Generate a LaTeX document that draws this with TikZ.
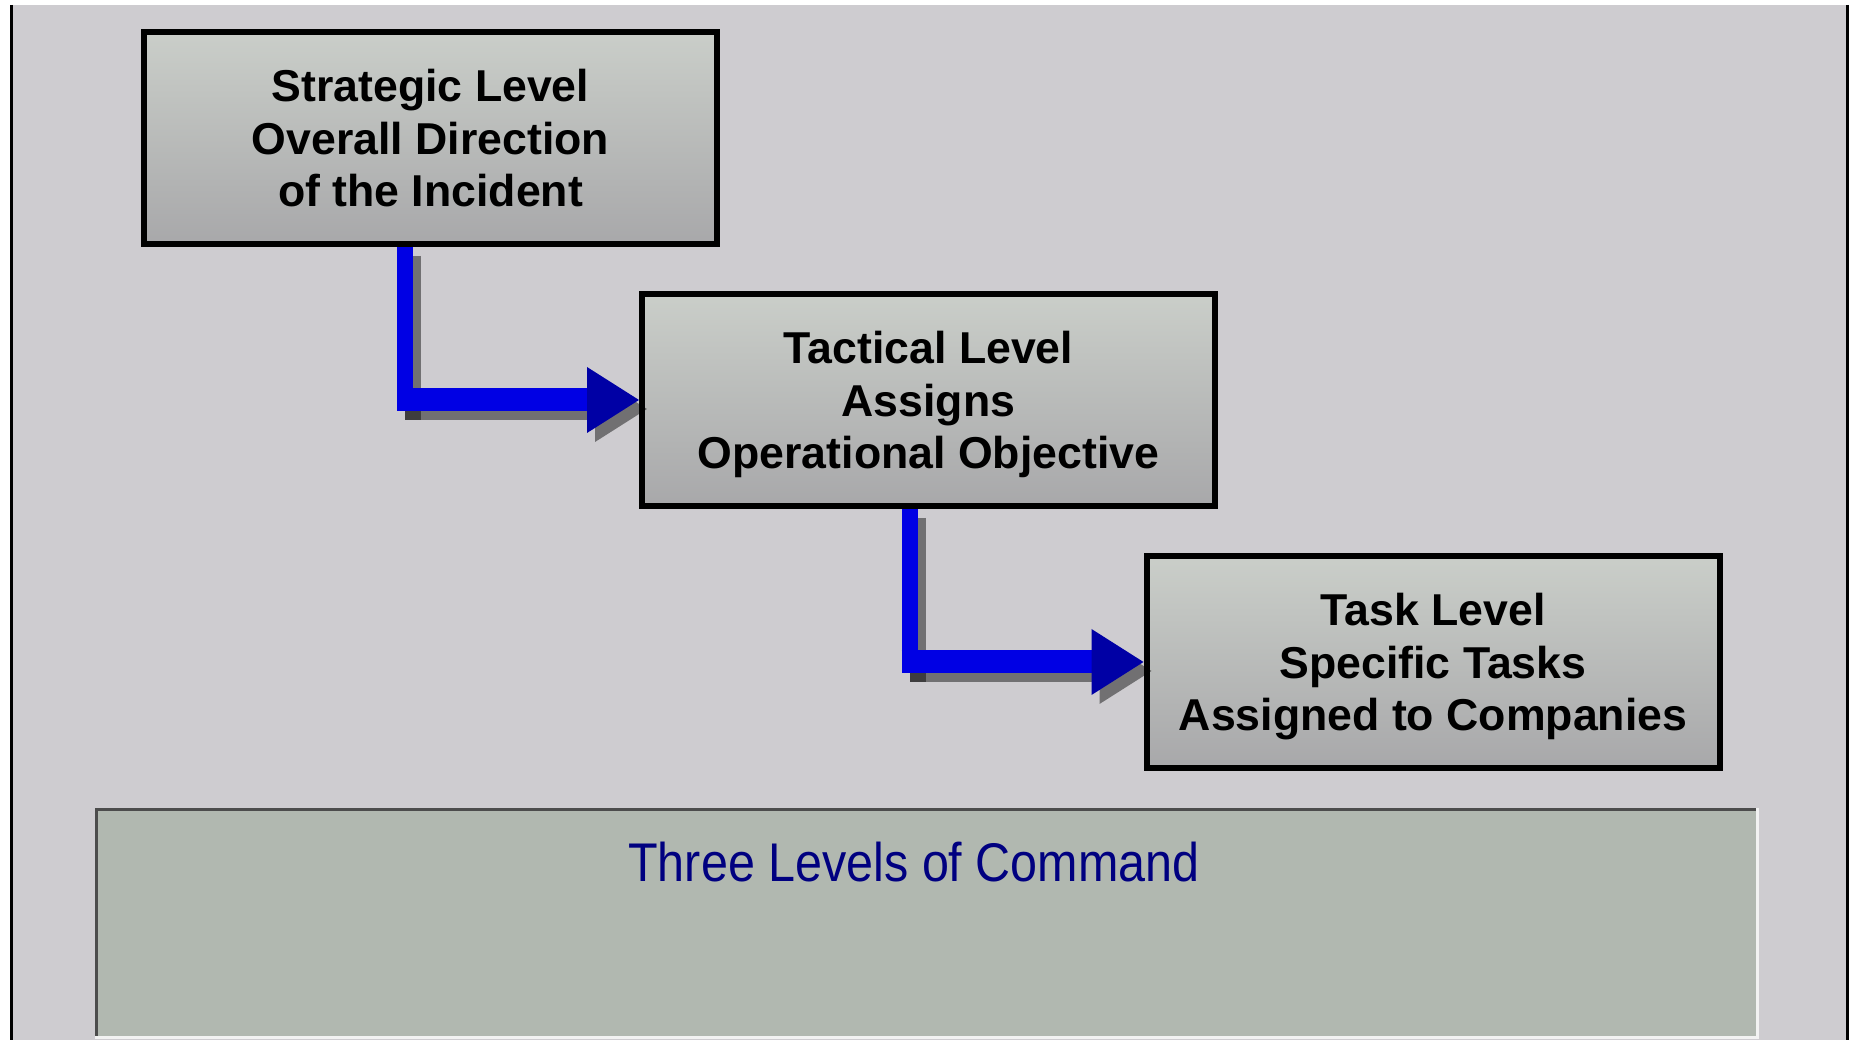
\documentclass[tikz,border=0pt]{standalone}
\usepackage{fontspec}
\setmainfont{Liberation Sans}
\newfontfamily\titlefont{Liberation Sans}[FakeStretch=0.89]
\usetikzlibrary{arrows.meta}
\definecolor{wallgray}{RGB}{206,204,208}
\definecolor{panelgray}{RGB}{177,184,176}
\definecolor{boxtop}{RGB}{202,206,201}
\definecolor{boxmid}{RGB}{193,186,194}
\definecolor{boxbot}{RGB}{168,168,170}
\definecolor{pipeblue}{RGB}{0,0,228}
\definecolor{headblue}{RGB}{0,0,165}
\definecolor{titleblue}{RGB}{0,0,128}
\tikzstyle{levelbox} = [rectangle, minimum width=5.73cm, minimum height=2.12cm, text centered, align=center, text depth=0pt, draw=black, line width=0.6mm, top color=boxtop, middle color=boxmid, bottom color=boxbot, font=\fontsize{12.7}{15}\selectfont\bfseries]
\tikzstyle{panelbox} = [rectangle, minimum width=16.62cm, minimum height=2.29cm, fill=panelgray, inner sep=0pt]
\tikzstyle{pipe} = [draw=pipeblue, -{Triangle[length=5.2mm, width=6.6mm, line width=0pt, fill=headblue, color=headblue]}]
\tikzstyle{pipeshadow} = [draw=black, opacity=0.45, -{Triangle[length=5.2mm, width=6.6mm, line width=0pt]}, transform canvas={shift={(0.8mm,-0.9mm)}}]

\begin{document}
\begin{tikzpicture}[node distance=5cm]
\useasboundingbox (0,0) rectangle (18.49,-10.40);
% wall
\fill[white] (0,0) rectangle (18.49,-10.40);
\fill[wallgray] (0.13,-0.05) rectangle (18.46,-10.40);
\draw[line width=0.3mm] (0.115,-0.05) -- (0.115,-10.40);
\draw[line width=0.3mm] (18.475,-0.05) -- (18.475,-10.40);

\node (strat) [levelbox] at (4.305,-1.38) {Strategic Level\\Overall Direction\\of the Incident};
\node (tact) [levelbox, right of=strat, xshift=-0.02cm, yshift=-2.62cm, text depth=-3.4pt] {Tactical Level\\Assigns\\Operational Objective};
\node (task) [levelbox, right of=tact, xshift=0.045cm, yshift=-2.62cm] {Task Level\\Specific Tasks\\Assigned to Companies};

\coordinate (drop1) at ([xshift=-2.55mm]strat.south);
\coordinate (bend1) at (drop1 |- tact.west);
\coordinate (drop2) at ([xshift=-1.9mm]tact.south);
\coordinate (bend2) at (drop2 |- task.west);

% shadows first
\draw [pipeshadow, -, line width=1.6mm] (drop1) -- ([yshift=-1.15mm]bend1);
\draw [pipeshadow, line width=2.3mm] ([xshift=-0.8mm]bend1) -- (tact.west);
\draw [pipeshadow, -, line width=1.6mm] (drop2) -- ([yshift=-1.15mm]bend2);
\draw [pipeshadow, line width=2.3mm] ([xshift=-0.8mm]bend2) -- (task.west);

\draw [pipe, -, line width=1.6mm] (drop1) -- ([yshift=-1.15mm]bend1);
\draw [pipe, line width=2.3mm] ([xshift=-0.8mm]bend1) -- (tact.west);
\draw [pipe, -, line width=1.6mm] (drop2) -- ([yshift=-1.15mm]bend2);
\draw [pipe, line width=2.3mm] ([xshift=-0.8mm]bend2) -- (task.west);

% caption panel
\node (panel) [panelbox] at (9.27,-9.235) {};
\draw[gray!60!black, line width=0.3mm] ([yshift=-0.15mm]panel.north west) -- ([yshift=-0.15mm]panel.north east);
\draw[gray!60!black, line width=0.3mm] ([xshift=0.15mm]panel.south west) -- ([xshift=0.15mm]panel.north west);
\draw[white!90!gray, line width=0.3mm] ([xshift=-0.15mm]panel.north east) -- ([xshift=-0.15mm]panel.south east);
\draw[white!90!gray, line width=0.3mm] ([yshift=0.15mm]panel.south west) -- ([yshift=0.15mm]panel.south east);
\node (title) [font=\titlefont\fontsize{15.5}{18}\selectfont, text=titleblue, anchor=base] at (9.14,-8.82) {Three Levels of Command};

\end{tikzpicture}
\end{document}
